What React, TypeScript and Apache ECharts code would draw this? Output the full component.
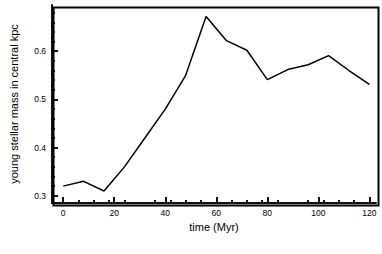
import React, { useEffect, useRef } from "react";
import * as echarts from "echarts";

const times = [0, 8, 16, 24, 32, 40, 48, 56, 64, 72, 80, 88, 96, 104, 112, 120];
const mass = [0.32, 0.33, 0.31, 0.36, 0.42, 0.48, 0.55, 0.672, 0.622, 0.602, 0.541, 0.562, 0.572, 0.591, 0.56, 0.531];
const xMajor = [0, 20, 40, 60, 80, 100, 120];
const yMajor = [0.3, 0.4, 0.5, 0.6];

const FONT = "Liberation Sans, Arial, sans-serif";
const INK = "#111111";

export default function App() {
  const ref = useRef<HTMLDivElement>(null);
  useEffect(() => {
    const chart = echarts.init(ref.current!, null, { renderer: "svg" });
    const xMin = -4.4, xMax = 122.6, yMin = 0.285, yMax = 0.696;
    chart.setOption({
      animation: false,
      grid: { left: 51, right: 6, top: 5, bottom: 51 },
      graphic: [
        { type: "rect", left: 51, top: 5, z: 100, shape: { x: 0, y: 0, width: 325, height: 198 }, style: { fill: "none", stroke: "#000", lineWidth: 2 }, silent: true },
      ],
      xAxis: [
        {
          type: "value", min: xMin, max: xMax, position: "bottom",
          name: "time (Myr)", nameLocation: "middle", nameGap: 12,
          nameTextStyle: { fontFamily: FONT, fontSize: 11, color: "#000" },
          axisLine: { show: true, onZero: false, lineStyle: { color: INK, width: 2 } },
          axisTick: { show: true, inside: true, length: 6, customValues: xMajor, lineStyle: { color: INK, width: 2 } },
          minorTick: { show: true, splitNumber: 5, length: 3, lineStyle: { color: INK, width: 2 } },
          axisLabel: { show: true, customValues: xMajor, fontFamily: FONT, fontSize: 8.5, color: "#000", margin: 5 },
          splitLine: { show: false },
        },
      ],
      yAxis: [
        {
          type: "value", min: yMin, max: yMax, position: "left",
          name: "young stellar mass in central kpc", nameLocation: "middle", nameGap: 33,
          nameTextStyle: { fontFamily: FONT, fontSize: 11, color: "#000" },
          axisLine: { show: true, onZero: false, lineStyle: { color: INK, width: 2 } },
          axisTick: { show: true, inside: true, length: 6, customValues: yMajor, lineStyle: { color: INK, width: 2 } },
          minorTick: { show: true, splitNumber: 5, length: 3, lineStyle: { color: INK, width: 2 } },
          axisLabel: { show: true, customValues: yMajor, fontFamily: FONT, fontSize: 8.5, color: "#000", margin: 6, formatter: (v: number) => v.toFixed(1) },
          splitLine: { show: false },
        },
      ],
      series: [
        {
          type: "line",
          data: times.map((t, i) => [t, mass[i]]),
          showSymbol: false,
          lineStyle: { color: "#000", width: 1.5 },
        },
      ],
    });
    return () => chart.dispose();
  }, []);
  return <div ref={ref} style={{ width: 382, height: 254, position: "absolute", left: 0, top: 0 }} />;
}
